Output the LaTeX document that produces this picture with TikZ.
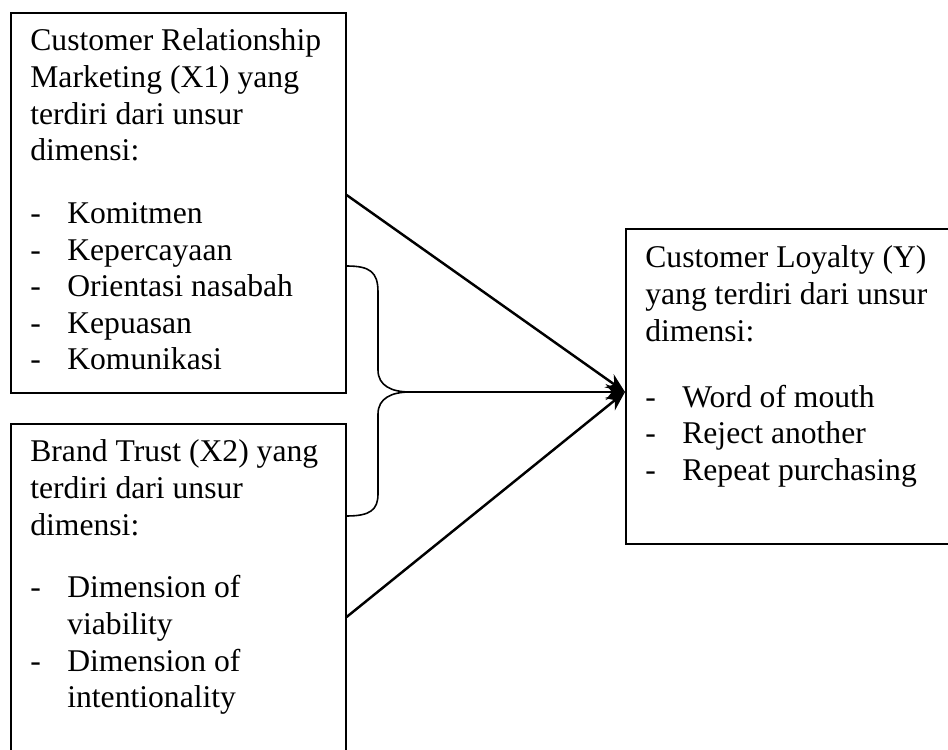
\documentclass[tikz,border=0pt]{standalone}
\usepackage{fontspec}
\setmainfont{Liberation Serif}
\usetikzlibrary{arrows.meta, calc}
\newcommand{\itm}[1]{\makebox[0.74cm][l]{-}#1}
\newcommand{\cnt}[1]{\hspace*{0.74cm}#1}

\begin{document}
\begin{tikzpicture}[x=0.02cm, y=-0.02cm, box/.style={draw, line width=0.95pt, anchor=north west, inner sep=0pt}, txt/.style={anchor=north west, align=left, inner sep=0pt, font=\fontsize{18}{20.8}\selectfont}, link/.style={line width=1.4pt, -{Stealth[length=11pt, width=9pt]}}, brace/.style={line width=0.9pt}] %, baseline=(x1.base)]
        \def\boxw{6.7cm}
        \useasboundingbox (0,0) rectangle (948,750);

        \node[box, minimum width=\boxw, minimum height=7.6cm] (x1) at (10,12) {};\node[box, minimum width=\boxw, minimum height=6.9cm] (x2) at (10,423) {};\node[box, minimum width=6.8cm, minimum height=6.3cm] (y) at (625,228) {};

        \node[txt] (x1t) at ($(x1.north west)+(20,13)$) {\strut Customer Relationship\\ Marketing (X1) yang\\ terdiri dari unsur\\ dimensi:\\[15pt] \itm{Komitmen}\\ \itm{Kepercayaan}\\ \itm{Orientasi nasabah}\\ \itm{Kepuasan}\\ \itm{Komunikasi}};
        \node[txt] (x2t) at ($(x2.north west)+(20,13)$) {\strut Brand Trust (X2) yang\\ terdiri dari unsur\\ dimensi:\\[15pt] \itm{Dimension of}\\ \cnt{viability}\\ \itm{Dimension of}\\ \cnt{intentionality}};
        \node[txt] (yt) at ($(y.north west)+(20,14)$) {\strut Customer Loyalty (Y)\\ yang terdiri dari unsur\\ dimensi:\\[17pt] \itm{Word of mouth}\\ \itm{Reject another}\\ \itm{Repeat purchasing}};

        \coordinate (tip) at (625,392);\coordinate (a1) at ($(x1.north east)+(0,183)$);\coordinate (a2) at ($(x2.north east)+(0,194)$);
        \coordinate (b1) at ($(x1.north east)+(0,254)$);\coordinate (b2) at ($(x2.north east)+(0,93)$);\coordinate (btip) at (410,392);

        \draw[brace] (b1) .. controls (370,266) and (378,272) .. (378,292) -- (378,370) .. controls (378,386) and (392,392) .. (btip) .. controls (392,392) and (378,398) .. (378,414) -- (378,494) .. controls (378,510) and (370,516) .. (b2);
        \draw[link] (a1) -- (tip);\draw[link] (btip) -- (tip);\draw[link] (a2) -- (tip);
    \end{tikzpicture}
\end{document}
